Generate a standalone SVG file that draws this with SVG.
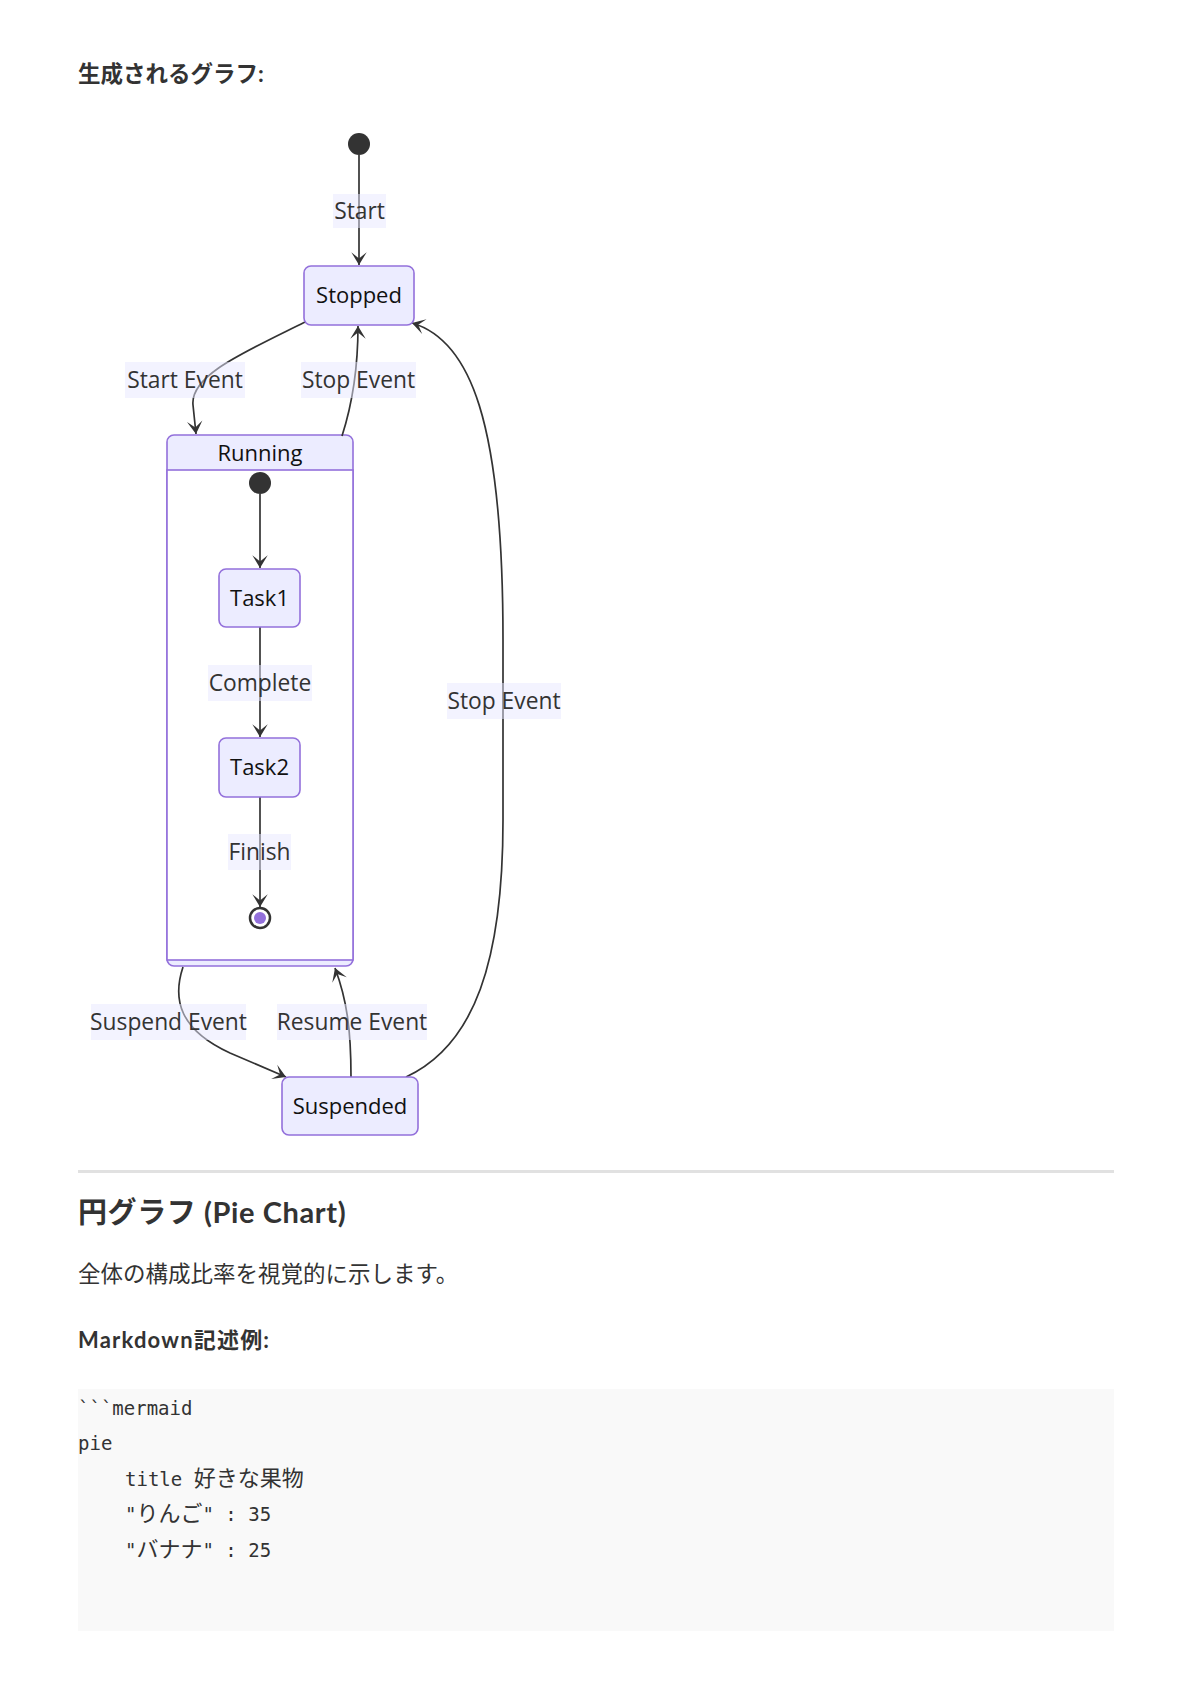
<svg xmlns="http://www.w3.org/2000/svg" width="1192" height="1686" viewBox="0 0 1192 1686">
<style>
.doc{font-family:"Lato","Noto Sans CJK JP",sans-serif;fill:#333;}
.h{font-weight:bold;}
.code{font-family:"DejaVu Sans Mono","Noto Sans CJK JP",monospace;font-size:19px;fill:#333;}
.cjk{font-family:"Noto Sans CJK JP",sans-serif;font-size:22px;}
.node{fill:#ECECFF;stroke:#9370DB;stroke-width:1.6;}
.lbl{font-family:"Open Sans","Noto Sans",sans-serif;font-size:22px;fill:#111;text-anchor:middle;}
.elbl{font-family:"Open Sans","Noto Sans",sans-serif;font-size:22.8px;fill:#333;text-anchor:middle;}
.lbg{fill:#E8E8FF;opacity:0.5;}
.edge{fill:none;stroke:#333;stroke-width:1.7;}
</style>
<defs>
<marker id="barb" viewBox="0 0 20 14" refX="19" refY="7" markerWidth="26" markerHeight="18" markerUnits="userSpaceOnUse" orient="auto">
<path d="M19,7 L9,13 L14,7 L9,1 Z" fill="#333"/>
</marker>
</defs>
<rect width="1192" height="1686" fill="#fff"/>

<text class="doc h" x="78" y="82" font-size="22.5">生成されるグラフ:</text>

<g id="Running">
<rect class="node" x="167" y="435" width="186" height="531" rx="7"/>
<rect x="167" y="470" width="186" height="490" fill="#fff" stroke="#9370DB" stroke-width="1.6"/>
<text class="lbl" x="260" y="461">Running</text>
</g>

<g id="connectors">
<path class="edge" d="M359,155 L359,265" marker-end="url(#barb)"/>
<path class="edge" d="M305,322 C245,352 190,375 193,405 L196,434" marker-end="url(#barb)"/>
<path class="edge" d="M342,436 C352,405 358,370 358,326" marker-end="url(#barb)"/>
<path class="edge" d="M406,1077 C475,1045 503,960 503,820 L503,640 C503,420 470,340 412,323" marker-end="url(#barb)"/>
<path class="edge" d="M260,494 L260,568" marker-end="url(#barb)"/>
<path class="edge" d="M260,627 L260,737" marker-end="url(#barb)"/>
<path class="edge" d="M260,797 L260,907" marker-end="url(#barb)"/>
<path class="edge" d="M183,967 C172,1000 180,1030 230,1053 L286,1077" marker-end="url(#barb)"/>
<path class="edge" d="M351,1077 C351,1030 347,1000 335,968" marker-end="url(#barb)"/>
<g id="edge-labels">
<rect class="lbg" x="333" y="194" width="53" height="34"/>
<text class="elbl" x="359.5" y="218.5">Start</text>
<rect class="lbg" x="125" y="362" width="120" height="36"/>
<text class="elbl" x="185" y="387.5">Start Event</text>
<rect class="lbg" x="301" y="362" width="115" height="36"/>
<text class="elbl" x="358.5" y="387.5">Stop Event</text>
<rect class="lbg" x="447" y="683" width="114" height="36"/>
<text class="elbl" x="504" y="708.5">Stop Event</text>
<rect class="lbg" x="208" y="665" width="104" height="36"/>
<text class="elbl" x="260" y="690.5">Complete</text>
<rect class="lbg" x="228" y="834" width="63" height="36"/>
<text class="elbl" x="259.5" y="859.5">Finish</text>
<rect class="lbg" x="91" y="1004" width="155" height="36"/>
<text class="elbl" x="168.5" y="1029.5">Suspend Event</text>
<rect class="lbg" x="277" y="1004" width="150" height="36"/>
<text class="elbl" x="352" y="1029.5">Resume Event</text>
</g>
</g>

<g id="start">
<circle cx="359" cy="144" r="11" fill="#333"/>
</g>
<g id="Stopped">
<rect class="node" x="304" y="266" width="110" height="59" rx="7"/>
<text class="lbl" x="359" y="303">Stopped</text>
</g>
<g id="Running_start">
<circle cx="260" cy="483" r="11" fill="#333"/>
</g>
<g id="Task1">
<rect class="node" x="219" y="569" width="81" height="58" rx="7"/>
<text class="lbl" x="259.5" y="606">Task1</text>
</g>
<g id="Task2">
<rect class="node" x="219" y="738" width="81" height="59" rx="7"/>
<text class="lbl" x="259.5" y="775">Task2</text>
</g>
<g id="Running_end">
<circle cx="260" cy="918" r="10" fill="#fff" stroke="#333" stroke-width="2.5"/>
<circle cx="260" cy="918" r="6" fill="#9370DB"/>
</g>
<g id="Suspended">
<rect class="node" x="282" y="1077" width="136" height="58" rx="7"/>
<text class="lbl" x="350" y="1114">Suspended</text>
</g>

<rect x="78" y="1170" width="1036" height="3" fill="#E1E1E1"/>
<text class="doc h" x="78" y="1223" font-size="29" letter-spacing="0.6">円グラフ (Pie Chart)</text>
<text class="doc" x="78" y="1282" font-size="22.5">全体の構成比率を視覚的に示します。</text>
<text class="doc h" x="78" y="1348" font-size="22" letter-spacing="1.2">Markdown記述例:</text>

<rect x="78" y="1389" width="1036" height="242" fill="#F9F9F9"/>
<text class="code" x="78" y="1415">```mermaid</text>
<text class="code" x="78" y="1450">pie</text>
<text class="code" x="125" y="1486">title <tspan class="cjk">好きな果物</tspan></text>
<text class="code" x="125" y="1521">"<tspan class="cjk">りんご</tspan>" : 35</text>
<text class="code" x="125" y="1557">"<tspan class="cjk">バナナ</tspan>" : 25</text>
</svg>
